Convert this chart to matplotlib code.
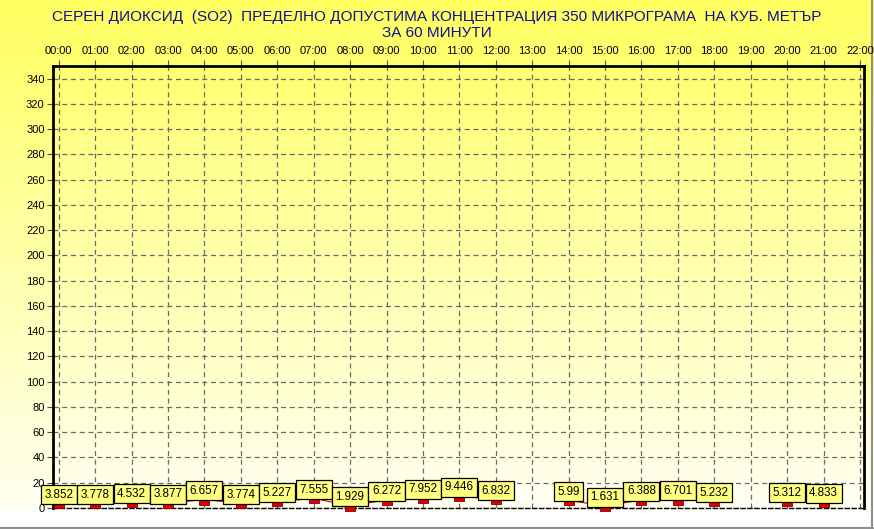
import numpy as np
import matplotlib
matplotlib.use("Agg")
import matplotlib.pyplot as plt
from matplotlib.ticker import AutoMinorLocator

# hourly SO2 averages, None = no measurement
hours = list(range(23))
hour_labels = [f"{h:02d}:00" for h in hours]
so2 = [3.852, 3.778, 4.532, 3.877, 6.657, 3.774, 5.227, 7.555, 1.929, 6.272,
       7.952, 9.446, 6.832, None, 5.99, 1.631, 6.388, 6.701, 5.232, None,
       5.312, 4.833, None]
y_ticks = list(range(0, 341, 20))
title = ("СЕРЕН ДИОКСИД  (SO2)  ПРЕДЕЛНО ДОПУСТИМА КОНЦЕНТРАЦИЯ 350 МИКРОГРАМА  НА КУБ. МЕТЪР\n"
         "ЗА 60 МИНУТИ")

plt.rcParams["font.family"] = ["Liberation Sans", "DejaVu Sans"]

W, H = 874, 529
fig = plt.figure(figsize=(W / 100, H / 100), dpi=100)

# background gradient, yellow at top fading to white
bg = fig.add_axes([0, 0, 1, 1], zorder=-10)
grad = np.linspace(0, 1, 256).reshape(-1, 1)
top = np.array([255, 255, 95]) / 255
bottom = np.array([255, 255, 248]) / 255
img = (top + (bottom - top) * grad[..., None]).reshape(256, 1, 3)
bg.imshow(img, aspect="auto", extent=[0, W, H, 0])
bg.fill_between([0, W], 510, H, color="white")
bg.plot([0, W], [527.5, 527.5], color="#909090", lw=1.5)
bg.plot([872, 872], [0, H], color="#909090", lw=1.5)
bg.set_xlim(0, W)
bg.set_ylim(H, 0)
bg.axis("off")

x0, x1 = 53, 864
y0, y1 = 66, 508
ax = fig.add_axes([x0 / W, (H - y1) / H, (x1 - x0) / W, (y1 - y0) / H])
ax.patch.set_alpha(0)

xs = np.array(hours, dtype=float)
ys = np.array([np.nan if v is None else v for v in so2])

ax.plot(xs, ys, color="#d00000", lw=0.8, zorder=3, clip_on=False)
ax.plot(xs, ys, ls="none", marker="s", ms=6.5, mfc="#e00000", mec="#800000",
        mew=0.6, zorder=4, clip_on=False)

for h, v in zip(hours, so2):
    if v is None:
        continue
    ax.annotate(f"{v:g}", (h, v), xytext=(0, 6.2), textcoords="offset points",
                ha="center", va="center", fontsize=8.4, zorder=6,
                bbox=dict(boxstyle="square,pad=0.3", fc="#ffff80", ec="black", lw=0.9))

ax.set_xlim(-0.157, 22.11)
ax.set_ylim(0, 350)

ax.set_xticks(hours)
ax.set_xticklabels(hour_labels)
ax.set_yticks(y_ticks)
ax.xaxis.tick_top()
ax.tick_params(axis="x", which="major", direction="out", length=4, width=0.8,
               color="#505050", labelsize=8, pad=3)
ax.tick_params(axis="y", which="major", direction="out", length=4, width=0.8,
               color="#505050", labelsize=8, pad=2)
ax.yaxis.set_minor_locator(AutoMinorLocator(4))
ax.tick_params(axis="y", which="minor", direction="inout", length=2, width=0.6,
               color="#707070")

ax.grid(True, which="major", color="#6a6a6a", ls=(0, (4, 3)), lw=0.9)

for side in ("left", "top", "right"):
    ax.spines[side].set_linewidth(2)
    ax.spines[side].set_color("black")
ax.spines["bottom"].set_linestyle((0, (3, 2)))
ax.spines["bottom"].set_linewidth(1)
ax.spines["bottom"].set_color("black")

fig.text(0.5, 1 - 25 / H, title, ha="center", va="center", fontsize=11,
         color="#10108c", linespacing=1.2)

fig.savefig("out.png", dpi=100)
